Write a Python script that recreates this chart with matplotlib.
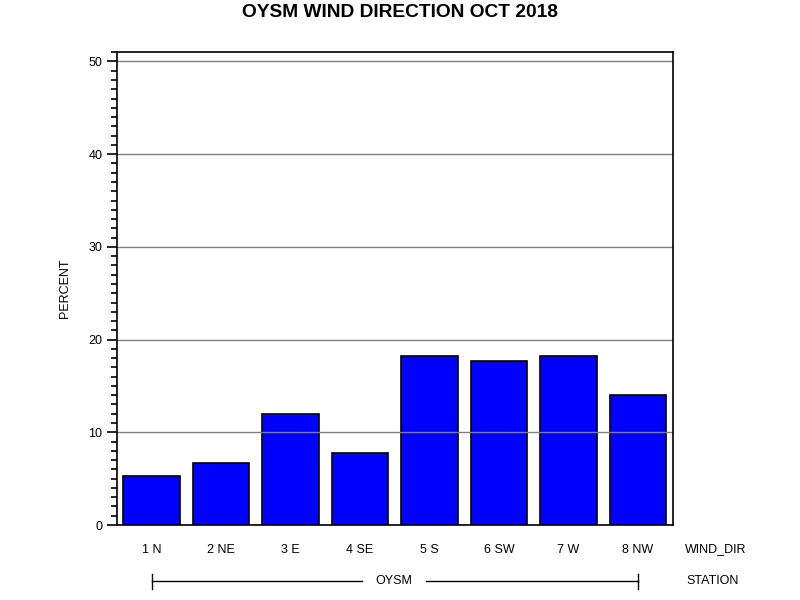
import matplotlib
matplotlib.use("Agg")
import matplotlib.pyplot as plt
from matplotlib.ticker import MultipleLocator

plt.rcParams['font.family'] = ['Liberation Sans', 'DejaVu Sans']

# wind direction share, OYSM station, Oct 2018
directions = ["1 N", "2 NE", "3 E", "4 SE", "5 S", "6 SW", "7 W", "8 NW"]
percent = [5.25, 6.65, 11.93, 7.72, 18.28, 17.64, 18.28, 13.97]
station = "OYSM"

fig = plt.figure(figsize=(8, 6), dpi=100)
ax = fig.add_axes([0.146, 0.125, 0.695, 0.788])

x = list(range(len(directions)))
ax.bar(x, percent, width=0.81, color="#0000ff", edgecolor="black", linewidth=1.2, zorder=2)

ax.set_xlim(-0.5, len(directions) - 0.5)
ax.set_ylim(0, 51)
ax.yaxis.set_major_locator(MultipleLocator(10))
ax.yaxis.set_minor_locator(MultipleLocator(1))
ax.tick_params(axis="y", which="major", direction="out", length=7, width=1.2, labelsize=9)
ax.tick_params(axis="y", which="minor", direction="out", length=4, width=1.2)
ax.set_xticks(x)
ax.set_xticklabels(directions, fontsize=9)
ax.tick_params(axis="x", length=0, pad=14)
ax.set_axisbelow(False)
ax.grid(axis="y", color="gray", linewidth=1, zorder=3)
for s in ax.spines.values():
    s.set_linewidth(1.2)
    s.set_zorder(4)

ax.set_ylabel("PERCENT", fontsize=9)
ax.yaxis.set_label_coords(-0.082, 0.5)
fig.suptitle("OYSM WIND DIRECTION OCT 2018", fontsize=13.8, fontweight="bold", y=0.993)

# row labels and station bracket under the axis
fig.text(685 / 800, 1 - 549 / 600, "WIND_DIR", fontsize=9, va="center")
fig.text(686 / 800, 1 - 581 / 600, "STATION", fontsize=9, va="center")

trans = ax.get_xaxis_transform()
yb = -0.119
ax.plot([0, 3.03], [yb, yb], color="black", lw=1, transform=trans, clip_on=False)
ax.plot([3.95, 7], [yb, yb], color="black", lw=1, transform=trans, clip_on=False)
for xe in (0, 7):
    ax.plot([xe, xe], [yb - 0.016, yb + 0.016], color="black", lw=1, transform=trans, clip_on=False)
ax.text(3.49, yb, station, fontsize=9, ha="center", va="center", transform=trans)

fig.savefig("out.png", dpi=100)
